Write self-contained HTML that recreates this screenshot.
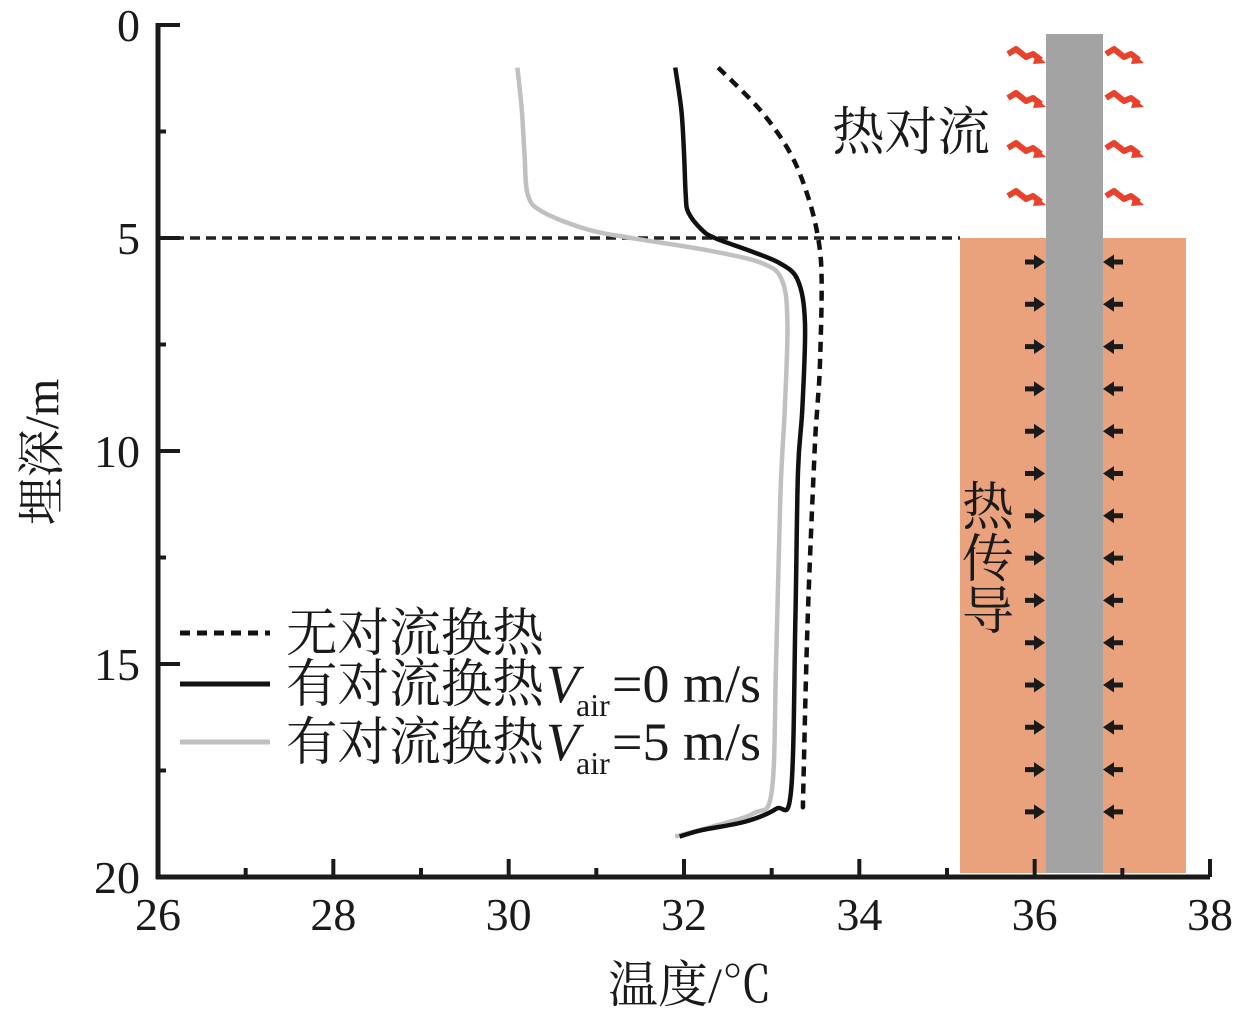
<!DOCTYPE html>
<html><head><meta charset="utf-8">
<style>
html,body{margin:0;padding:0;background:#fff;}
svg{display:block;}
text{font-family:"Liberation Serif","Noto Serif CJK SC",serif;fill:#1a1a1a;}
</style></head>
<body>
<svg id="chart" width="1244" height="1017" viewBox="0 0 1244 1017">
  <g id="schematic"></g>
  <g id="plot"></g>
  <g id="axes"></g>
  <g id="legend"></g>
</svg>
<script>
const xTicks = [26, 28, 30, 32, 34, 36, 38];
const yTicks = [0, 5, 10, 15, 20];
const depthNoConv = [1, 2, 3, 4, 5, 6, 8, 9, 10, 14, 18, 18.2];
const tempNoConv = [32.39, 32.87, 33.21, 33.41, 33.53, 33.57, 33.55, 33.52, 33.49, 33.41, 33.36, 33.36];
const depthV0 = [1, 2, 3, 4, 4.4, 4.8, 5, 5.3, 5.6, 6, 7, 9, 10.5, 14, 18, 18.4, 18.7, 18.9, 19.05];
const tempV0 = [31.9, 31.97, 32.0, 32.02, 32.05, 32.2, 32.35, 32.75, 33.1, 33.3, 33.38, 33.35, 33.3, 33.27, 33.22, 33.05, 32.7, 32.2, 31.95];
const depthV5 = [1, 2, 3, 4, 4.4, 4.8, 5, 5.3, 5.6, 6, 7, 9, 11, 15, 18, 18.5, 18.8, 19.05];
const tempV5 = [30.1, 30.15, 30.18, 30.22, 30.4, 30.9, 31.4, 32.3, 32.9, 33.12, 33.18, 33.15, 33.1, 33.05, 33.0, 32.8, 32.35, 31.9];
const legendLabels = ["无对流换热", "有对流换热", "有对流换热"];

const NS = "http://www.w3.org/2000/svg";
const X0 = 158, X1 = 1210, Y0 = 25, Y1 = 877;
function sx(v){ return X0 + (v - 26) / 12 * (X1 - X0); }
function sy(d){ return Y0 + d / 20 * (Y1 - Y0); }
function mk(tag, attrs, parent){
  const e = document.createElementNS(NS, tag);
  for (const k in attrs) e.setAttribute(k, attrs[k]);
  parent.appendChild(e); return e;
}
function smooth(pts){
  let d = "M" + pts[0][0] + "," + pts[0][1];
  for (let i = 0; i < pts.length - 1; i++){
    const p0 = pts[i-1] || pts[i], p1 = pts[i], p2 = pts[i+1], p3 = pts[i+2] || p2;
    const c1x = p1[0] + (p2[0]-p0[0])/6, c1y = p1[1] + (p2[1]-p0[1])/6;
    const c2x = p2[0] - (p3[0]-p1[0])/6, c2y = p2[1] - (p3[1]-p1[1])/6;
    d += " C" + c1x + "," + c1y + " " + c2x + "," + c2y + " " + p2[0] + "," + p2[1];
  }
  return d;
}

// schematic
const sch = document.getElementById("schematic");
let r = mk("rect", {x:960, y:238, width:226, height:635, fill:"#e9a27c"}, sch);


let pile = mk("rect", {x:1046, y:34, width:57, height:839, fill:"#a3a3a3"}, sch);


[58, 102, 152, 200].forEach(function(yy){
  [1008, 1106].forEach(function(xx){
    const z = mk("path", {d:"M"+xx+","+(yy-4)+" l8,-5 l10,8 l7,-3 l8,6", fill:"none", stroke:"#e8412c", "stroke-width":6, "stroke-linejoin":"round"}, sch);
    
    
    const h = mk("path", {d:"M"+(xx+38)+","+(yy+5)+" l-10,-9 l-3,10 z", fill:"#e8412c"}, sch);
    
    
  });
});
for (let i = 0; i < 14; i++){
  const yy = 262 + i * 42.3;
  const a1 = mk("path", {d:"M1025,"+(yy-2.5)+" h9 v-5 l11,7.5 l-11,7.5 v-5 h-9 z", fill:"#1a1a1a"}, sch);
  
  
  const a2 = mk("path", {d:"M1123,"+(yy-2.5)+" h-9 v-5 l-11,7.5 l11,7.5 v-5 h9 z", fill:"#1a1a1a"}, sch);
  
  
}
let t1 = mk("text", {x:832, y:150, "font-size":52, textLength:158, lengthAdjust:"spacingAndGlyphs"}, sch); t1.textContent = "热对流";


["热","传","导"].forEach(function(c,i){
  const t = mk("text", {x:962, y:525 + i*52, "font-size":52}, sch); t.textContent = c;
  
  
});

// plot
const plot = document.getElementById("plot");
let hl = mk("line", {x1:X0, x2:960, y1:sy(5), y2:sy(5), stroke:"#222", "stroke-width":3.5, "stroke-dasharray":"10,6"}, plot);


function series(depths, temps, style, name){
  const pts = depths.map(function(d,i){ return [sx(temps[i]), sy(d)]; });
  const p = mk("path", Object.assign({d:smooth(pts), fill:"none"}, style), plot);
  
  
}
series(depthV5, tempV5, {stroke:"#c0c0c0", "stroke-width":4.5}, "series-vair-5");
series(depthV0, tempV0, {stroke:"#111", "stroke-width":4.5}, "series-vair-0");
series(depthNoConv, tempNoConv, {stroke:"#111", "stroke-width":4.5, "stroke-dasharray":"10,7"}, "series-no-convection");

// axes
const ax = document.getElementById("axes");
let yl = mk("line", {x1:X0, x2:X0, y1:Y0-2, y2:Y1+2, stroke:"#1a1a1a", "stroke-width":5}, ax);


let xl = mk("line", {x1:X0-2, x2:X1, y1:Y1, y2:Y1, stroke:"#1a1a1a", "stroke-width":5}, ax);


xTicks.forEach(function(v, i){
  const x = sx(v);
  const tk = mk("line", {x1:x, x2:x, y1:Y1, y2:Y1-18, stroke:"#1a1a1a", "stroke-width":4}, ax);
  
  
  if (i < xTicks.length - 1){
    const m = mk("line", {x1:sx(v+1), x2:sx(v+1), y1:Y1, y2:Y1-9, stroke:"#1a1a1a", "stroke-width":4}, ax);
    
    
  }
  const t = mk("text", {x:x, y:930, "font-size":46, "text-anchor":"middle"}, ax); t.textContent = v;
  
  
});
yTicks.forEach(function(v, i){
  const y = sy(v);
  const tk = mk("line", {x1:X0, x2:X0+22, y1:y, y2:y, stroke:"#1a1a1a", "stroke-width":4}, ax);
  
  
  if (i < yTicks.length - 1){
    const m = mk("line", {x1:X0, x2:X0+8, y1:sy(v+2.5), y2:sy(v+2.5), stroke:"#1a1a1a", "stroke-width":4}, ax);
    
    
  }
  const t = mk("text", {x:140, y:y+16, "font-size":46, "text-anchor":"end"}, ax); t.textContent = v;
  
  
});
let xt = mk("text", {x:690, y:1002, "font-size":50, "text-anchor":"middle"}, ax); xt.textContent = "温度/℃";


let yt = mk("text", {x:0, y:0, "font-size":48, "text-anchor":"middle", transform:"translate(58,452) rotate(-90)"}, ax); yt.textContent = "埋深/m";



// legend
const lg = document.getElementById("legend");
const lys = [633, 684, 742];
const lstyles = [
  {stroke:"#111", "stroke-width":5, "stroke-dasharray":"10,7"},
  {stroke:"#111", "stroke-width":5},
  {stroke:"#c0c0c0", "stroke-width":5}
];
const subs = [null, "=0 m/s", "=5 m/s"];
lys.forEach(function(y, i){
  const l = mk("line", Object.assign({x1:180, x2:270, y1:y, y2:y}, lstyles[i]), lg);
  
  
  const t = mk("text", {x:286, y:y+18, "font-size":52, textLength:258, lengthAdjust:"spacingAndGlyphs"}, lg);
  
  
  t.textContent = legendLabels[i];
  if (subs[i]){
    const v = mk("text", {x:546, y:y+18, "font-size":54, "font-style":"italic"}, lg); v.textContent = "V";
    
    
    const s = mk("text", {x:576, y:y+32, "font-size":32}, lg); s.textContent = "air";
    
    
    const e = mk("text", {x:612, y:y+18, "font-size":54}, lg); e.textContent = subs[i];
    
    
  }
});
</script>
</body></html>
